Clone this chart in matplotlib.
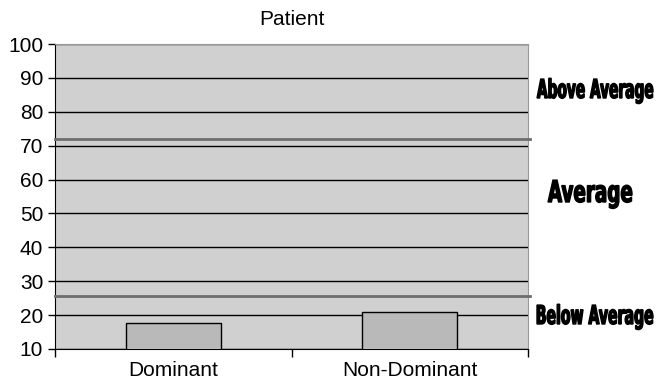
import matplotlib.pyplot as plt
import numpy as np
from matplotlib.textpath import TextPath
from matplotlib.patches import PathPatch
from matplotlib.font_manager import FontProperties
from matplotlib.transforms import Affine2D

plt.rcParams['font.family'] = ['Liberation Sans', 'DejaVu Sans']

categories = ["Dominant", "Non-Dominant"]
scores = [17.7, 21.0]
upper_cut = 72
lower_cut = 25.5
bands = ["Above Average", "Average", "Below Average"]
# left edge, baseline, width and height in pixels for each band name
band_left = [537, 548, 537]
band_base = [98, 202, 324]
band_w = [116, 84, 116]
band_h = [26, 30, 26]

fig = plt.figure(figsize=(6.57, 3.9), dpi=100)
ax = fig.add_axes([55 / 657, 41 / 390, 473 / 657, 305 / 390])
ax.set_facecolor("#d0d0d0")

x = np.arange(len(categories))
ax.bar(x, scores, width=0.4, color="#b9b9b9", edgecolor="black",
       linewidth=1, zorder=3)
ax.set_ylim(10, 100)
ax.set_xlim(-0.5, 1.5)

ax.set_yticks(range(10, 101, 10))
ax.yaxis.grid(True, color="black", linewidth=1)
ax.set_axisbelow(True)
ax.tick_params(axis="y", labelsize=15, length=5, width=1, direction="out")

# categories get labels, ticks sit on the boundaries
ax.set_xticks(x)
ax.set_xticklabels(categories, fontsize=15)
ax.tick_params(axis="x", length=0, pad=9)
ax.set_xticks([-0.5, 0.5, 1.5], minor=True)
ax.tick_params(axis="x", which="minor", length=6, width=1, direction="out")

for cut in (upper_cut, lower_cut):
    ax.plot([-0.5, 1.51], [cut, cut], color="#6e6e6e", linewidth=2,
            clip_on=False, zorder=4)

ax.spines["left"].set_color("black")
ax.spines["bottom"].set_color("black")
ax.spines["top"].set_color("#999999")
ax.spines["right"].set_color("#999999")

ax.set_title("Patient", fontsize=15, pad=14)

# band names: heavy, narrow lettering drawn as squeezed text paths
heavy = FontProperties(family="DejaVu Sans", weight="black")
H = fig.bbox.height
for name, left, base, w, h in zip(bands, band_left, band_base, band_w, band_h):
    tp = TextPath((0, 0), name, size=1, prop=heavy)
    ext = tp.get_extents()
    tr = (Affine2D().translate(-ext.x0, 0)
          .scale(w / ext.width, h)
          .translate(left, H - base))
    fig.patches.append(PathPatch(tr.transform_path(tp), color="black",
                                 lw=1.0, transform=None, figure=fig))

fig.savefig("out.png", dpi=100)
